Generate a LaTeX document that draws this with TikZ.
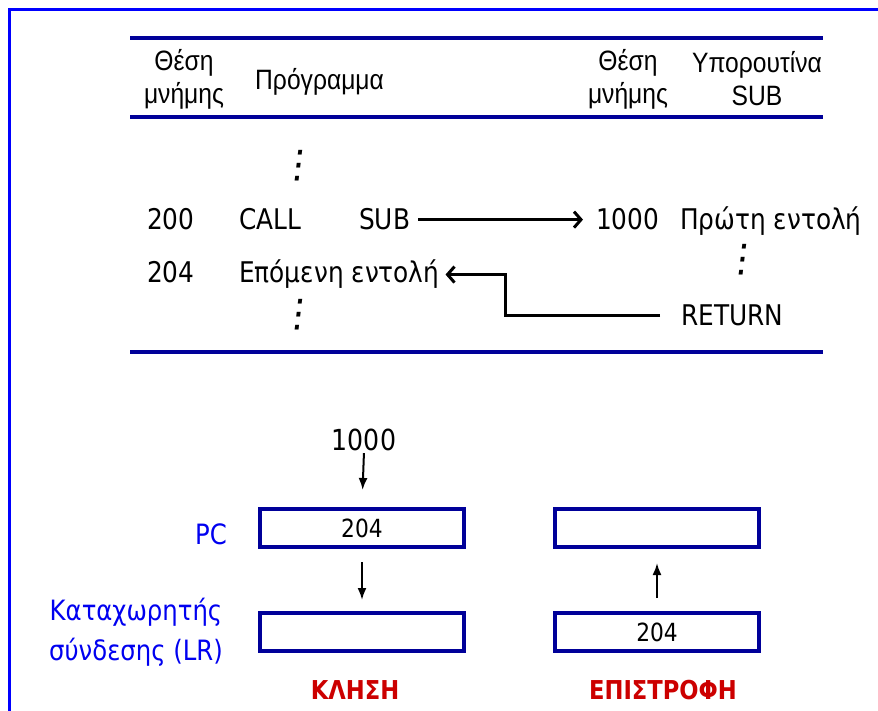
\documentclass[tikz,border=0pt]{standalone}
\usepackage{fontspec}
\setmainfont{DejaVu Sans}[FakeStretch=0.87]
\newfontfamily\hdrfont{Liberation Sans}[FakeStretch=0.88]
\newfontfamily\dotsfont{DejaVu Sans}[FakeSlant=0.12]
\usetikzlibrary{arrows.meta,positioning,calc}
\definecolor{cadreC}{RGB}{0,0,255}
\definecolor{navyC}{RGB}{0,0,153}
\definecolor{bleuC}{RGB}{0,0,240}
\definecolor{rougeC}{RGB}{204,0,0}
\tikzset{
  hdr/.style={align=center, inner sep=0pt, font=\hdrfont\fontsize{28}{33}\selectfont},
  txt/.style={anchor=base west, inner sep=0pt, font=\fontsize{28.5}{32}\selectfont},
  dots/.style={inner sep=0pt, font=\dotsfont\fontsize{38}{38}\selectfont},
  reg/.style={rectangle, draw=navyC, line width=4pt, minimum width=204pt, minimum height=38pt,
              inner sep=0pt, font=\fontsize{25}{30}\selectfont},
  lbl/.style={text=bleuC, align=center, inner sep=0pt, font=\fontsize{28}{40}\selectfont},
  act/.style={text=rougeC, inner sep=0pt, font=\bfseries\fontsize{26}{30}\selectfont},
  regle/.style={draw=navyC, line width=4pt},
  jmp/.style={-{Straight Barb[length=7pt,width=16pt]}, line width=3pt},
  arr/.style={-{Latex[length=12pt,width=9pt]}, line width=2pt},
}
\begin{document}
\begin{tikzpicture}[x=1pt,y=-1pt]
  \useasboundingbox (0,0) rectangle (878,711);
  % cadre
  \draw[cadreC, line width=3pt] (9,711) -- (9,10) -- (878,10);
  % tableau
  \draw[regle] (130,38) -- (823,38);
  \draw[regle] (130,117) -- (823,117);
  \draw[regle] (130,352) -- (823,352);
  \node[hdr] (h1) at (184,79) {Θέση\\μνήμης};
  \node[hdr, anchor=west] (h2) at (255,82) {Πρόγραμμα};
  \node[hdr] (h3) at (628,79) {Θέση\\μνήμης};
  \node[hdr] (h4) at (757,79) {Υπορουτίνα\\SUB};
  \node[dots] (d1) at (297,166) {⋮};
  \node[txt] (a200) at (147,230) {200};
  \node[txt] (call) at (239,230) {CALL};
  \node[txt] (sub) at (359,230) {SUB};
  \node[txt] (a1000) at (596,230) {1000};
  \node[txt] (first) at (680,230) {Πρώτη εντολή};
  \node[txt] (a204) at (147,283) {204};
  \node[txt] (next) at (239,283) {Επόμενη εντολή};
  \node[dots] (d2) at (741,260) {⋮};
  \node[txt] (ret) at (681,326) {RETURN};
  \node[dots] (d3) at (297,315) {⋮};
  \draw[jmp, shorten <=8pt, shorten >=13pt] (sub.east) -- (a1000.west);
  \draw[jmp, shorten >=6pt] ($(ret.west)+(-21,0)$) -- ++(-155,0) |- (next.east);
  % registres
  \node[reg] (pc1) at (362,528) {204};
  \node[reg] (lr1) at (362,632) {};
  \node[reg] (pc2) at (657,528) {};
  \node[reg] (lr2) at (657,632) {204};
  \node[inner sep=0pt, font=\fontsize{29}{32}\selectfont] (val) at (364,440) {1000};
  \node[lbl] (pclbl) at (211,534) {PC};
  \node[lbl] (lrlbl) at (136,632) {Καταχωρητής\\σύνδεσης (LR)};
  \node[act] (kl) at (355,690) {ΚΛΗΣΗ};
  \node[act] (ep) at (663,690) {ΕΠΙΣΤΡΟΦΗ};
  \draw[arr, shorten <=2pt, shorten >=17pt] (val.south) -- (pc1.north);
  \draw[arr, shorten <=13pt, shorten >=11pt] (pc1.south) -- (lr1.north);
  \draw[arr, shorten <=13pt, shorten >=14pt] (lr2.north) -- (pc2.south);
\end{tikzpicture}
\end{document}
